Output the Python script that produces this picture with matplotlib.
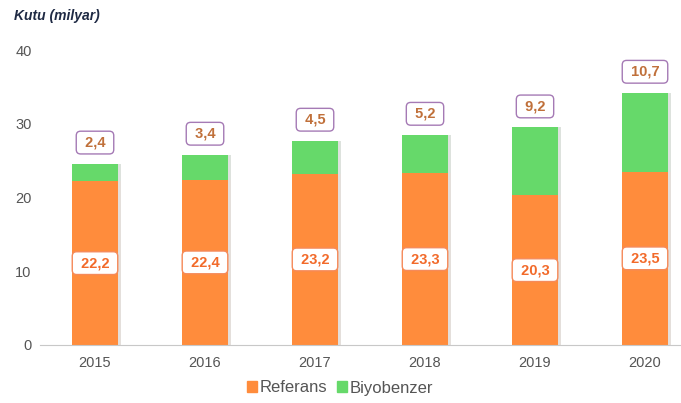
import matplotlib.pyplot as plt
import matplotlib.patheffects as pe
from matplotlib.patches import Patch

years = ['2015', '2016', '2017', '2018', '2019', '2020']
referans = [22.2, 22.4, 23.2, 23.3, 20.3, 23.5]
biyobenzer = [2.4, 3.4, 4.5, 5.2, 9.2, 10.7]

ORANGE = '#FF8C3C'
GREEN = '#66D96A'


def fmt(v):
    return ' ' + f"{v:.1f}".replace('.', ',') + ' '


def main():
    plt.rcParams['font.family'] = ['Liberation Sans', 'DejaVu Sans']
    fig = plt.figure(figsize=(6.81, 4.03), dpi=100)
    ax = fig.add_axes([40 / 681, 58 / 403, 660 / 681, 295 / 403])

    x = range(len(years))
    # soft shadow to the right of the bars
    shadow = [pe.SimplePatchShadow(offset=(2, 0), alpha=0.15), pe.Normal()]
    b1 = ax.bar(x, referans, width=0.42, color=ORANGE, zorder=2, lw=0)
    b2 = ax.bar(x, biyobenzer, width=0.42, bottom=referans, color=GREEN, zorder=2, lw=0)
    for p in list(b1) + list(b2):
        p.set_path_effects(shadow)

    for i, (r, b) in enumerate(zip(referans, biyobenzer)):
        ax.text(i, r / 2, fmt(r), ha='center', va='center', fontsize=10.5,
                fontweight='bold', color='#F26A2A', zorder=4,
                bbox=dict(boxstyle='round,pad=0.3,rounding_size=0.3',
                          fc='white', ec='#F58A5A', lw=1.0))
        ax.annotate(fmt(b), (i, r + b), xytext=(0, 21), textcoords='offset pixels',
                    ha='center', va='center', fontsize=10.5, fontweight='bold',
                    color='#C0703A', zorder=4,
                    bbox=dict(boxstyle='round,pad=0.3,rounding_size=0.3',
                              fc='white', ec='#A57AB5', lw=1.0))

    ax.set_xlim(-0.5, 5.5)
    ax.set_ylim(0, 40)
    ax.set_yticks([0, 10, 20, 30, 40])
    ax.set_xticks(list(x))
    ax.set_xticklabels(years)
    ax.tick_params(axis='both', length=0, labelsize=10.5, labelcolor='#555555')
    ax.tick_params(axis='y', pad=6)
    ax.tick_params(axis='x', pad=8)
    for s in ['top', 'right', 'left']:
        ax.spines[s].set_visible(False)
    ax.spines['bottom'].set_color('#C8C8C8')

    fig.text(14 / 681, 1 - 16 / 403, 'Kutu (milyar)', fontsize=10, fontweight='bold',
             fontstyle='italic', color='#1F2A44', va='center', ha='left')

    handles = [Patch(color=ORANGE, label='Referans'), Patch(color=GREEN, label='Biyobenzer')]
    fig.legend(handles=handles, loc='center', bbox_to_anchor=(340 / 681, 1 - 388 / 403),
               ncol=2, frameon=False, fontsize=12, handlelength=0.6, handleheight=0.6,
               handletextpad=0.15, columnspacing=0.6, labelcolor='#555555')

    fig.savefig('out.png', dpi=100)


if __name__ == '__main__':
    main()
